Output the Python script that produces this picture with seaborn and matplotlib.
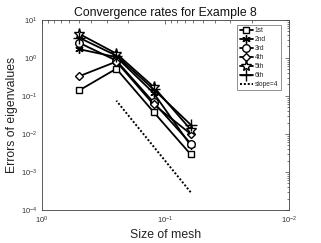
import numpy as np
import pandas as pd
import matplotlib
matplotlib.use("Agg")
import matplotlib.pyplot as plt
import seaborn as sns

h = [0.5, 0.25, 0.125, 0.0625]
err_1st = [0.14, 0.52, 0.038, 0.0029]
err_2nd = [1.7, 1.05, 0.12, 0.0050]
err_3rd = [2.5, 0.85, 0.068, 0.0056]
err_4th = [0.33, 0.80, 0.060, 0.0100]
err_5th = [4.3, 1.30, 0.175, 0.0130]
err_6th = [3.4, 1.15, 0.150, 0.0175]
labels = ["1st", "2nd", "3rd", "4th", "5th", "6th"]
slope_h = [0.25, 0.0625]
slope_err = [0.075, 0.075 / 256]

sns.set_theme(style="white")
plt.rcParams['font.family'] = ['Liberation Sans', 'DejaVu Sans']

series = [err_1st, err_2nd, err_3rd, err_4th, err_5th, err_6th]
df = pd.DataFrame({
    "h": np.tile(h, len(labels)),
    "err": np.concatenate(series),
    "series": np.repeat(labels, len(h)),
})

markers = {"1st": "s", "2nd": (6, 2, 0), "3rd": "o", "4th": "D", "5th": "*", "6th": "+"}
sizes = {"1st": 4.5, "2nd": 6, "3rd": 5.5, "4th": 4.2, "5th": 8, "6th": 8}

fig = plt.figure(figsize=(3.21, 2.43), dpi=100)
ax = fig.add_axes([0.131, 0.136, 0.769, 0.782])

for lab in labels:
    sub = df[df.series == lab]
    sns.lineplot(data=sub, x="h", y="err", ax=ax, color="black", lw=1.3,
                 marker=markers[lab], markersize=sizes[lab], markerfacecolor="white",
                 markeredgecolor="black", markeredgewidth=1.0, label=lab)

sns.lineplot(x=slope_h, y=slope_err, ax=ax, color="black", lw=1.4,
             linestyle=(0, (1, 1)), label="slope=4")

ax.set_xscale("log")
ax.set_yscale("log")
ax.set_xlim(1, 0.01)
ax.set_ylim(1e-4, 10)
ax.set_xticks([1, 0.1, 0.01])
ax.set_yticks([1e-4, 1e-3, 1e-2, 1e-1, 1, 10])

gray = "#404040"
for s in ax.spines.values():
    s.set_color(gray)
    s.set_linewidth(0.6)
ax.tick_params(which="both", direction="in", top=True, right=True, colors=gray,
               labelsize=5.5, width=0.5)
ax.tick_params(which="major", length=3)
ax.tick_params(which="minor", length=1.8)
for lbl in ax.get_xticklabels() + ax.get_yticklabels():
    lbl.set_color("#333333")

ax.set_title("Convergence rates for Example 8", fontsize=8.8, color="#111111", pad=3)
ax.set_xlabel("Size of mesh", fontsize=8.8, color="#222222", labelpad=2)
ax.set_ylabel("Errors of eigenvalues", fontsize=8.8, color="#222222", labelpad=2)

leg = ax.legend(loc="upper right", bbox_to_anchor=(0.975, 0.985), fontsize=4.8,
                frameon=True, fancybox=False, borderpad=0.35, handlelength=2.0,
                handletextpad=0.3, labelspacing=0.3, borderaxespad=0.3)
leg.get_frame().set_edgecolor(gray)
leg.get_frame().set_linewidth(0.5)

fig.savefig("out.png", dpi=100)
